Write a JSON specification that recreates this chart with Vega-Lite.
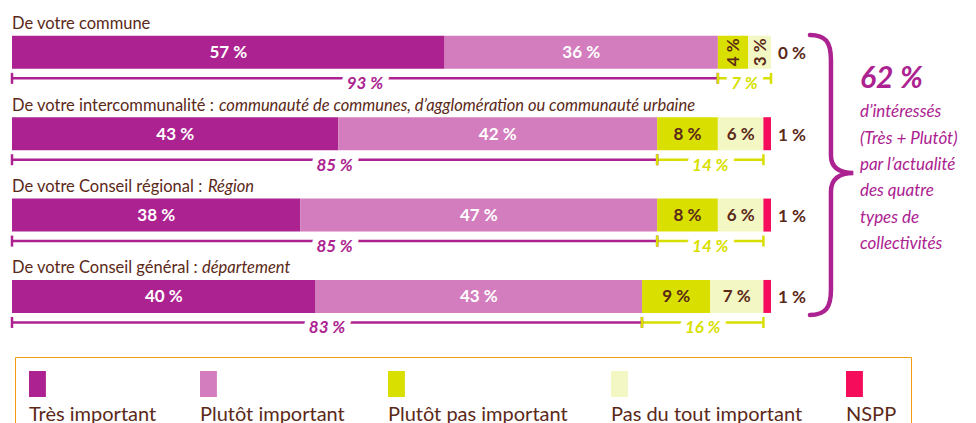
{
  "$schema": "https://vega.github.io/schema/vega-lite/v6.json",
  "width": 976,
  "height": 423,
  "autosize": {"type": "none"},
  "padding": 0,
  "background": "white",
  "view": {"stroke": null},
  "config": {
    "font": "Lato",
    "locale": {"number": {"decimal": ",", "thousands": "\u00a0", "grouping": [3], "currency": ["", "\u00a0€"], "percent": "\u00a0%"}}
  },
  "datasets": {
    "bars": [
      {"row": 1, "cat": "Très important", "k": 1, "value": 0.57},
      {"row": 1, "cat": "Plutôt important", "k": 2, "value": 0.36},
      {"row": 1, "cat": "Plutôt pas important", "k": 3, "value": 0.04},
      {"row": 1, "cat": "Pas du tout important", "k": 4, "value": 0.03},
      {"row": 1, "cat": "NSPP", "k": 5, "value": 0.0},
      {"row": 2, "cat": "Très important", "k": 1, "value": 0.43},
      {"row": 2, "cat": "Plutôt important", "k": 2, "value": 0.42},
      {"row": 2, "cat": "Plutôt pas important", "k": 3, "value": 0.08},
      {"row": 2, "cat": "Pas du tout important", "k": 4, "value": 0.06},
      {"row": 2, "cat": "NSPP", "k": 5, "value": 0.01},
      {"row": 3, "cat": "Très important", "k": 1, "value": 0.38},
      {"row": 3, "cat": "Plutôt important", "k": 2, "value": 0.47},
      {"row": 3, "cat": "Plutôt pas important", "k": 3, "value": 0.08},
      {"row": 3, "cat": "Pas du tout important", "k": 4, "value": 0.06},
      {"row": 3, "cat": "NSPP", "k": 5, "value": 0.01},
      {"row": 4, "cat": "Très important", "k": 1, "value": 0.40},
      {"row": 4, "cat": "Plutôt important", "k": 2, "value": 0.43},
      {"row": 4, "cat": "Plutôt pas important", "k": 3, "value": 0.09},
      {"row": 4, "cat": "Pas du tout important", "k": 4, "value": 0.07},
      {"row": 4, "cat": "NSPP", "k": 5, "value": 0.01}
    ],
    "brackets": [
      {"row": 1, "side": "fav", "pos": 0, "share": 0.93},
      {"row": 1, "side": "fav", "pos": 0.93, "share": 0.93},
      {"row": 1, "side": "unfav", "pos": 0.93, "share": 0.07},
      {"row": 1, "side": "unfav", "pos": 1.0, "share": 0.07},
      {"row": 2, "side": "fav", "pos": 0, "share": 0.85},
      {"row": 2, "side": "fav", "pos": 0.85, "share": 0.85},
      {"row": 2, "side": "unfav", "pos": 0.85, "share": 0.14},
      {"row": 2, "side": "unfav", "pos": 0.99, "share": 0.14},
      {"row": 3, "side": "fav", "pos": 0, "share": 0.85},
      {"row": 3, "side": "fav", "pos": 0.85, "share": 0.85},
      {"row": 3, "side": "unfav", "pos": 0.85, "share": 0.14},
      {"row": 3, "side": "unfav", "pos": 0.99, "share": 0.14},
      {"row": 4, "side": "fav", "pos": 0, "share": 0.83},
      {"row": 4, "side": "fav", "pos": 0.83, "share": 0.83},
      {"row": 4, "side": "unfav", "pos": 0.83, "share": 0.16},
      {"row": 4, "side": "unfav", "pos": 0.99, "share": 0.16}
    ],
    "titles": [
      {"row": 1, "title": "De votre commune", "ital": ""},
      {"row": 2, "title": "De votre intercommunalité :", "ital": "communauté de communes, d’agglomération ou communauté urbaine"},
      {"row": 3, "title": "De votre Conseil régional :", "ital": "Région"},
      {"row": 4, "title": "De votre Conseil général :", "ital": "département"}
    ],
    "note": [
      {"big": "62 %", "lines": "d’intéressés\n(Très + Plutôt)\npar l’actualité\ndes quatre\ntypes de\ncollectivités"}
    ]
  },
  "layer": [
    {
      "data": {"name": "bars"},
      "mark": {"type": "bar", "orient": "horizontal", "size": 33},
      "encoding": {
        "y": {"field": "row", "type": "quantitative", "scale": {"domain": [0.418, 5.494], "nice": false, "zero": false, "reverse": true}, "axis": null},
        "x": {"field": "value", "type": "quantitative", "stack": "zero", "scale": {"domain": [-0.01581, 1.2701], "nice": false, "zero": false}, "axis": null},
        "order": {"field": "k", "type": "quantitative"},
        "color": {
          "field": "cat", "type": "nominal",
          "scale": {"domain": ["Très important", "Plutôt important", "Plutôt pas important", "Pas du tout important", "NSPP"], "range": ["#AC2290", "#D37DBE", "#D9E000", "#F3F7C4", "#F50C5A"]},
          "legend": {
            "title": null, "orient": "none", "legendX": 15, "legendY": 357, "direction": "horizontal", "columns": 5,
            "symbolType": "M-1,-1H0.3V1H-1Z", "symbolSize": 676, "symbolStrokeWidth": 0, "symbolOpacity": 1,
            "labelFont": "Lato", "labelFontSize": 20, "labelColor": "#5B2918", "labelLimit": 400, "labelOffset": 0, "labelBaseline": "alphabetic",
            "columnPadding": 43, "padding": 14, "strokeColor": "#F39C12", "fillColor": "white",
            "encoding": {"labels": {"dx": {"value": -26}, "dy": {"value": 37}}}
          }
        }
      }
    },
    {
      "data": {"name": "bars"},
      "transform": [{"filter": "datum.cat !== 'NSPP'"}],
      "mark": {"type": "text", "font": "Lato", "fontWeight": "bold", "fontSize": 17, "baseline": "middle", "align": "center", "dy": 1},
      "encoding": {
        "y": {"field": "row", "type": "quantitative", "scale": {"domain": [0.418, 5.494], "nice": false, "zero": false, "reverse": true}, "axis": null},
        "x": {"field": "value", "type": "quantitative", "stack": "zero", "bandPosition": 0.5, "scale": {"domain": [-0.01581, 1.2701], "nice": false, "zero": false}, "axis": null},
        "order": {"field": "k", "type": "quantitative"},
        "color": {"field": "cat", "type": "nominal", "scale": {"domain": ["Très important", "Plutôt important", "Plutôt pas important", "Pas du tout important"], "range": ["#FFFFFF", "#FFFFFF", "#5B2918", "#5B2918"]}, "legend": null},
        "angle": {"condition": {"test": "datum.value < 0.05", "value": 270}, "value": 0},
        "text": {"field": "value", "type": "quantitative", "format": ".0%"}
      }
    },
    {
      "data": {"name": "bars"},
      "transform": [{"filter": "datum.cat === 'NSPP'"}],
      "mark": {"type": "text", "font": "Lato", "fontWeight": "bold", "fontSize": 17, "baseline": "middle", "align": "left", "dx": 7, "dy": 2, "color": "#5B2918"},
      "encoding": {
        "y": {"field": "row", "type": "quantitative", "scale": {"domain": [0.418, 5.494], "nice": false, "zero": false, "reverse": true}, "axis": null},
        "x": {"datum": 1, "type": "quantitative", "scale": {"domain": [-0.01581, 1.2701], "nice": false, "zero": false}, "axis": null},
        "text": {"field": "value", "type": "quantitative", "format": ".0%"}
      }
    },
    {
      "data": {"name": "brackets"},
      "mark": {"type": "rule", "strokeWidth": 2.5, "yOffset": 26},
      "encoding": {
        "y": {"field": "row", "type": "quantitative", "scale": {"domain": [0.418, 5.494], "nice": false, "zero": false, "reverse": true}, "axis": null},
        "x": {"aggregate": "min", "field": "pos", "type": "quantitative", "scale": {"domain": [-0.01581, 1.2701], "nice": false, "zero": false}, "axis": null},
        "x2": {"aggregate": "max", "field": "pos"},
        "color": {"field": "side", "type": "nominal", "scale": {"domain": ["fav", "unfav"], "range": ["#AC2290", "#D8DF00"]}, "legend": null}
      }
    },
    {
      "data": {"name": "brackets"},
      "mark": {"type": "rule", "strokeWidth": 2.5, "yOffset": 20.5, "y2Offset": 31.5},
      "encoding": {
        "y": {"field": "row", "type": "quantitative", "scale": {"domain": [0.418, 5.494], "nice": false, "zero": false, "reverse": true}, "axis": null},
        "y2": {"field": "row"},
        "x": {"field": "pos", "type": "quantitative", "scale": {"domain": [-0.01581, 1.2701], "nice": false, "zero": false}, "axis": null},
        "color": {"field": "side", "type": "nominal", "scale": {"domain": ["fav", "unfav"], "range": ["#AC2290", "#D8DF00"]}, "legend": null}
      }
    },
    {
      "data": {"name": "brackets"},
      "mark": {"type": "text", "font": "Lato", "fontWeight": "bold", "fontStyle": "italic", "fontSize": 17, "baseline": "alphabetic", "align": "center", "dy": 37, "fill": "white", "stroke": "white", "strokeWidth": 12, "strokeJoin": "round"},
      "encoding": {
        "y": {"field": "row", "type": "quantitative", "scale": {"domain": [0.418, 5.494], "nice": false, "zero": false, "reverse": true}, "axis": null},
        "x": {"aggregate": "mean", "field": "pos", "type": "quantitative", "scale": {"domain": [-0.01581, 1.2701], "nice": false, "zero": false}, "axis": null},
        "detail": {"field": "side", "type": "nominal"},
        "text": {"aggregate": "max", "field": "share", "type": "quantitative", "format": ".0%"}
      }
    },
    {
      "data": {"name": "brackets"},
      "mark": {"type": "text", "font": "Lato", "fontWeight": "bold", "fontStyle": "italic", "fontSize": 17, "baseline": "alphabetic", "align": "center", "dy": 37},
      "encoding": {
        "y": {"field": "row", "type": "quantitative", "scale": {"domain": [0.418, 5.494], "nice": false, "zero": false, "reverse": true}, "axis": null},
        "x": {"aggregate": "mean", "field": "pos", "type": "quantitative", "scale": {"domain": [-0.01581, 1.2701], "nice": false, "zero": false}, "axis": null},
        "color": {"field": "side", "type": "nominal", "scale": {"domain": ["fav", "unfav"], "range": ["#AC2290", "#D8DF00"]}, "legend": null},
        "text": {"aggregate": "max", "field": "share", "type": "quantitative", "format": ".0%"}
      }
    },
    {
      "data": {"name": "titles"},
      "mark": {"type": "text", "font": "Lato", "fontSize": 16.5, "align": "left", "baseline": "alphabetic", "dy": -23, "color": "#5B2918"},
      "encoding": {
        "y": {"field": "row", "type": "quantitative", "scale": {"domain": [0.418, 5.494], "nice": false, "zero": false, "reverse": true}, "axis": null},
        "x": {"datum": 0, "type": "quantitative", "scale": {"domain": [-0.01581, 1.2701], "nice": false, "zero": false}, "axis": null},
        "text": {"field": "title", "type": "nominal"}
      }
    },
    {
      "data": {"name": "titles"},
      "transform": [{"filter": "datum.row === 2"}],
      "mark": {"type": "text", "font": "Lato", "fontSize": 16.5, "fontStyle": "italic", "align": "left", "baseline": "alphabetic", "dy": -23, "dx": 207, "color": "#5B2918"},
      "encoding": {
        "y": {"field": "row", "type": "quantitative", "scale": {"domain": [0.418, 5.494], "nice": false, "zero": false, "reverse": true}, "axis": null},
        "x": {"datum": 0, "type": "quantitative", "scale": {"domain": [-0.01581, 1.2701], "nice": false, "zero": false}, "axis": null},
        "text": {"field": "ital", "type": "nominal"}
      }
    },
    {
      "data": {"name": "titles"},
      "transform": [{"filter": "datum.row === 3"}],
      "mark": {"type": "text", "font": "Lato", "fontSize": 16.5, "fontStyle": "italic", "align": "left", "baseline": "alphabetic", "dy": -23, "dx": 196, "color": "#5B2918"},
      "encoding": {
        "y": {"field": "row", "type": "quantitative", "scale": {"domain": [0.418, 5.494], "nice": false, "zero": false, "reverse": true}, "axis": null},
        "x": {"datum": 0, "type": "quantitative", "scale": {"domain": [-0.01581, 1.2701], "nice": false, "zero": false}, "axis": null},
        "text": {"field": "ital", "type": "nominal"}
      }
    },
    {
      "data": {"name": "titles"},
      "transform": [{"filter": "datum.row === 4"}],
      "mark": {"type": "text", "font": "Lato", "fontSize": 16.5, "fontStyle": "italic", "align": "left", "baseline": "alphabetic", "dy": -23, "dx": 190, "color": "#5B2918"},
      "encoding": {
        "y": {"field": "row", "type": "quantitative", "scale": {"domain": [0.418, 5.494], "nice": false, "zero": false, "reverse": true}, "axis": null},
        "x": {"datum": 0, "type": "quantitative", "scale": {"domain": [-0.01581, 1.2701], "nice": false, "zero": false}, "axis": null},
        "text": {"field": "ital", "type": "nominal"}
      }
    },
    {
      "data": {"values": [{}]},
      "mark": {"type": "point", "shape": "M-0.15,-1C-0.04,-1 0,-0.95 0,-0.82L0,-0.14C0,-0.05 0.06,-0.014 0.16,-0.014C0.06,-0.014 0,0.03 0,0.12L0,0.82C0,0.95 -0.04,1 -0.15,1", "size": 78400, "filled": false, "stroke": "#AC2290", "strokeWidth": 4.5, "opacity": 1, "strokeCap": "round"},
      "encoding": {
        "y": {"datum": 2.506, "type": "quantitative", "scale": {"domain": [0.418, 5.494], "nice": false, "zero": false, "reverse": true}, "axis": null},
        "x": {"datum": 1.079, "type": "quantitative", "scale": {"domain": [-0.01581, 1.2701], "nice": false, "zero": false}, "axis": null}
      }
    },
    {
      "data": {"name": "note"},
      "mark": {"type": "text", "font": "Lato", "fontSize": 30, "fontWeight": "bold", "fontStyle": "italic", "align": "left", "baseline": "middle", "color": "#AC2290"},
      "encoding": {
        "y": {"datum": 1.33, "type": "quantitative", "scale": {"domain": [0.418, 5.494], "nice": false, "zero": false, "reverse": true}, "axis": null},
        "x": {"datum": 1.1172, "type": "quantitative", "scale": {"domain": [-0.01581, 1.2701], "nice": false, "zero": false}, "axis": null},
        "text": {"field": "big", "type": "nominal"}
      }
    },
    {
      "data": {"name": "note"},
      "mark": {"type": "text", "font": "Lato", "fontSize": 17, "fontStyle": "italic", "align": "left", "baseline": "middle", "lineBreak": "\n", "lineHeight": 26.3, "color": "#AC2290"},
      "encoding": {
        "y": {"datum": 1.738, "type": "quantitative", "scale": {"domain": [0.418, 5.494], "nice": false, "zero": false, "reverse": true}, "axis": null},
        "x": {"datum": 1.1172, "type": "quantitative", "scale": {"domain": [-0.01581, 1.2701], "nice": false, "zero": false}, "axis": null},
        "text": {"field": "lines", "type": "nominal"}
      }
    }
  ],
  "resolve": {"scale": {"color": "independent"}}
}
